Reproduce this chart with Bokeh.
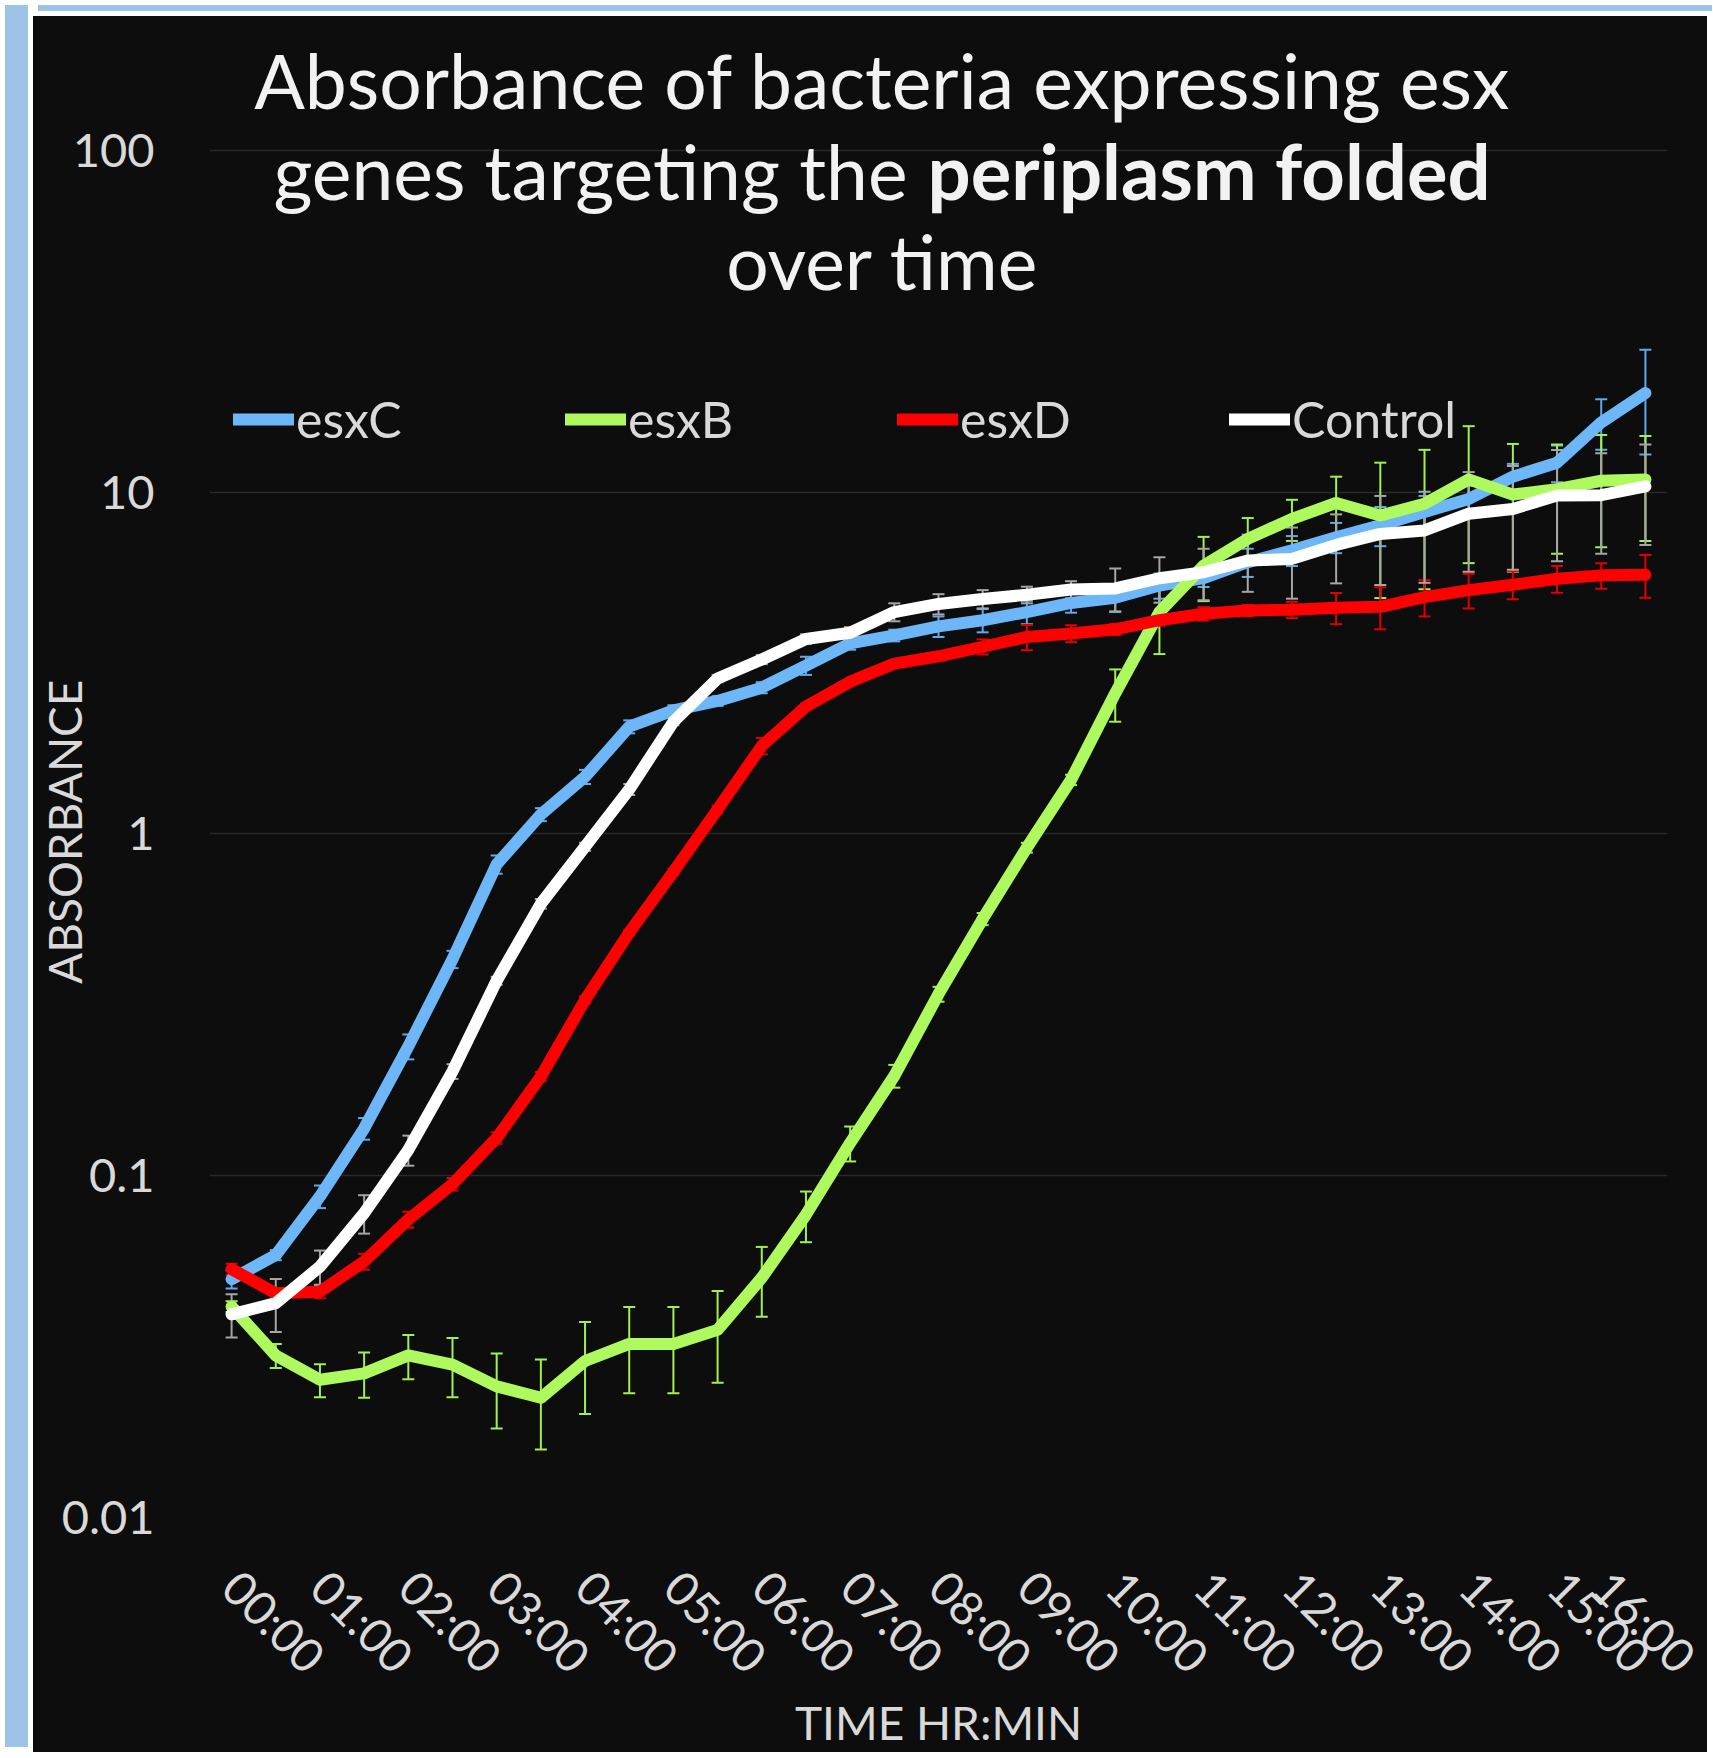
import math
from bokeh.plotting import figure
from bokeh.models import (ColumnDataSource, Whisker, TeeHead, FixedTicker, Range1d,
                          Legend, LegendItem, Label, Div)
from bokeh.layouts import row, column
from bokeh.embed import file_html
from bokeh.resources import INLINE

# ---------------- data ----------------
times = ["00:00", "00:30", "01:00", "01:30", "02:00", "02:30", "03:00", "03:30",
         "04:00", "04:30", "05:00", "05:30", "06:00", "06:30", "07:00", "07:30",
         "08:00", "08:30", "09:00", "09:30", "10:00", "10:30", "11:00", "11:30",
         "12:00", "12:30", "13:00", "13:30", "14:00", "14:30", "15:00", "15:30",
         "16:00"]

esxC = [0.0498, 0.0586, 0.087, 0.1375, 0.239, 0.430, 0.815, 1.14, 1.47, 2.06, 2.30,
        2.45, 2.68, 3.11, 3.61, 3.81, 4.05, 4.22, 4.46, 4.74, 4.91, 5.33, 5.61, 6.24,
        6.76, 7.38, 8.0, 8.75, 9.55, 11.1, 12.2, 16.0, 19.5]
esxC_sd = [0.003, 0.002, 0.0066, 0.010, 0.020, 0.025, 0.05, 0.05, 0.07, 0.09, 0.08,
           0.08, 0.10, 0.19, 0.15, 0.15, 0.28, 0.33, 0.35, 0.30, 0.45, 0.45, 0.33, 0.59,
           0.68, 0.75, 1.05, 1.0, 0.9, 1.0, 1.5, 2.7, 6.6]

esxB = [0.0414, 0.0298, 0.0253, 0.0264, 0.0298, 0.0280, 0.0242, 0.0224, 0.0287, 0.0322,
        0.0322, 0.0354, 0.0503, 0.0769, 0.1247, 0.196, 0.340, 0.564, 0.912, 1.44, 2.58,
        4.46, 6.1, 7.3, 8.35, 9.3, 8.55, 9.25, 10.9, 9.84, 10.2, 10.8, 10.9]
esxB_sd = [0.0015, 0.0024, 0.0028, 0.004, 0.0044, 0.0055, 0.006, 0.0066, 0.0086, 0.0091,
           0.0091, 0.0106, 0.0116, 0.013, 0.0146, 0.015, 0.017, 0.023, 0.03, 0.05, 0.45,
           1.1, 1.3, 1.1, 1.15, 1.8, 3.65, 4.05, 4.7, 4.0, 3.6, 3.9, 3.7]

esxD = [0.0533, 0.0453, 0.0458, 0.0561, 0.0745, 0.0945, 0.129, 0.195, 0.327, 0.515, 0.775,
        1.18, 1.81, 2.36, 2.79, 3.15, 3.31, 3.53, 3.77, 3.86, 3.97, 4.22, 4.41, 4.51, 4.53,
        4.59, 4.62, 4.93, 5.17, 5.36, 5.58, 5.71, 5.73]
esxD_sd = [0.002, 0.0015, 0.002, 0.003, 0.004, 0.004, 0.005, 0.006, 0.008, 0.01, 0.015,
           0.03, 0.1, 0.05, 0.05, 0.06, 0.08, 0.18, 0.32, 0.22, 0.15, 0.15, 0.2, 0.17, 0.25,
           0.48, 0.65, 0.6, 0.6, 0.5, 0.5, 0.49, 0.82]

control = [0.0393, 0.0424, 0.0542, 0.0777, 0.119, 0.202, 0.372, 0.625, 0.918, 1.35, 2.13,
           2.85, 3.24, 3.72, 3.88, 4.46, 4.71, 4.87, 5.01, 5.19, 5.23, 5.6, 5.83, 6.31, 6.38,
           7.01, 7.55, 7.73, 8.65, 8.93, 9.78, 9.8, 10.4]
control_sd = [0.0057, 0.0075, 0.0062, 0.010, 0.012, 0.010, 0.010, 0.02, 0.025, 0.05, 0.05,
              0.07, 0.1, 0.12, 0.15, 0.27, 0.32, 0.30, 0.28, 0.30, 0.75, 0.85, 1.0, 1.2, 1.5,
              1.6, 2.2, 2.3, 2.8, 3.0, 3.5, 3.2, 3.4]

y_ticks = [0.01, 0.1, 1, 10, 100]
y_tick_labels = ["0.01", "0.1", "1", "10", "100"]

title_line1 = "Absorbance of bacteria expressing esx"
title_line2a = "genes targeting the"
title_line2b = "periplasm folded"
title_line3 = "over time"
y_title = "ABSORBANCE"
x_title = "TIME HR:MIN"

# ---------------- style ----------------
BG = "#0D0D0D"
FRAME_BLUE = "#9DC3E6"
TXT = "#D9D9D9"
TITLE_TXT = "#F2F2F2"
GRID = "#2A2A2A"
FONT = "Lato"
colors = {"esxC": "#6DB6F7", "esxB": "#AEFA5E", "esxD": "#FF0000", "Control": "#FFFFFF"}
err_colors = {"esxC": "#5FA9EC", "esxB": "#A2F04F", "esxD": "#E00000", "Control": "#A6A6A6"}

hours = [int(t[:2]) + int(t[3:]) / 60.0 for t in times]
hour_ticks = [int(t[:2]) for t in times if t.endswith(":00")]
hour_labels = {int(t[:2]): t for t in times if t.endswith(":00")}

# frame: 1502 px tall, 342 px per decade, 100-gridline 134 px below the frame top
y_top = 10 ** (2 + 134 / 342)

p = figure(width=1674, height=1736,
           x_range=Range1d(-0.25, 16.25), y_range=Range1d(0.01, y_top),
           y_axis_type="log", output_backend="svg", toolbar_location=None,
           min_border_left=176, min_border_right=40, min_border_top=0,
           min_border_bottom=234,
           background_fill_color=BG, border_fill_color=BG,
           styles={"background-color": BG})
p.outline_line_color = None

# axes
for ax in (p.xaxis[0], p.yaxis[0]):
    ax.axis_line_color = None
    ax.major_tick_line_color = None
    ax.minor_tick_line_color = None
    ax.major_label_text_color = TXT
    ax.major_label_text_font = FONT
    ax.major_label_text_font_size = "47px"
    ax.axis_label_text_color = TXT
    ax.axis_label_text_font = FONT
    ax.axis_label_text_font_size = "46px"
    ax.axis_label_text_font_style = "normal"

p.xaxis.ticker = FixedTicker(ticks=hour_ticks)
p.xaxis.major_label_overrides = hour_labels
p.xaxis.major_label_orientation = -math.pi / 4
p.xaxis.major_label_standoff = 55
p.xaxis.axis_label = x_title
p.xaxis.axis_label_standoff = -12

p.yaxis.ticker = FixedTicker(ticks=y_ticks)
p.yaxis.major_label_overrides = dict(zip(y_ticks, y_tick_labels))
p.yaxis.major_label_standoff = 49
# trailing no-break spaces centre the visible word on the 0.01-100 span
p.yaxis.axis_label = y_title + "\u00a0" * 11
p.yaxis.axis_label_standoff = -33

p.xgrid.visible = False
p.ygrid.ticker = FixedTicker(ticks=y_ticks)
p.ygrid.grid_line_color = GRID
p.ygrid.grid_line_width = 1.5
p.ygrid.minor_grid_line_color = None

series = [("esxC", esxC, esxC_sd), ("esxB", esxB, esxB_sd),
          ("esxD", esxD, esxD_sd), ("Control", control, control_sd)]

items = []
for name, vals, sd in series:
    src = ColumnDataSource(dict(
        x=hours, y=vals,
        upper=[v + s for v, s in zip(vals, sd)],
        lower=[v - s for v, s in zip(vals, sd)]))
    ec = err_colors[name]
    w = Whisker(source=src, base="x", upper="upper", lower="lower", dimension="height",
                line_color=ec, line_width=2, level="underlay",
                upper_head=TeeHead(size=12, line_color=ec, line_width=2),
                lower_head=TeeHead(size=12, line_color=ec, line_width=2))
    p.add_layout(w)
    r = p.line("x", "y", source=src, line_color=colors[name], line_width=12,
               line_join="round", line_cap="round")
    items.append(LegendItem(label=name, renderers=[r]))

legend = Legend(items=items, orientation="horizontal", location=(24, 1068),
                glyph_width=61, glyph_height=40, label_height=40, label_width=269,
                label_standoff=2, spacing=0, padding=0, margin=0,
                border_line_color=None, background_fill_alpha=0,
                label_text_color=TXT, label_text_font=FONT, label_text_font_size="50px")
p.add_layout(legend)

# title lines (screen units relative to the frame's bottom-left corner)
def lab(x, y, text, size, align="center", style="normal"):
    p.add_layout(Label(x=x, y=y, x_units="screen", y_units="screen", text=text,
                       text_font=FONT, text_font_size=size, text_color=TITLE_TXT,
                       text_align=align, text_baseline="alphabetic",
                       text_font_style=style))

lab(673, 1438, title_line1, "75px")
lab(698, 1347, title_line2a, "75px", align="right")
lab(718, 1347, title_line2b, "76px", align="left", style="bold")
lab(673, 1257, title_line3, "75px")

left_strip = Div(width=23, height=1742, styles={"background-color": FRAME_BLUE})
top_strip = Div(width=1674, height=6, styles={"background-color": FRAME_BLUE})
layout = row(left_strip, column(top_strip, p, spacing=0), spacing=0)

open("out.html", "w").write(file_html(layout, INLINE))
